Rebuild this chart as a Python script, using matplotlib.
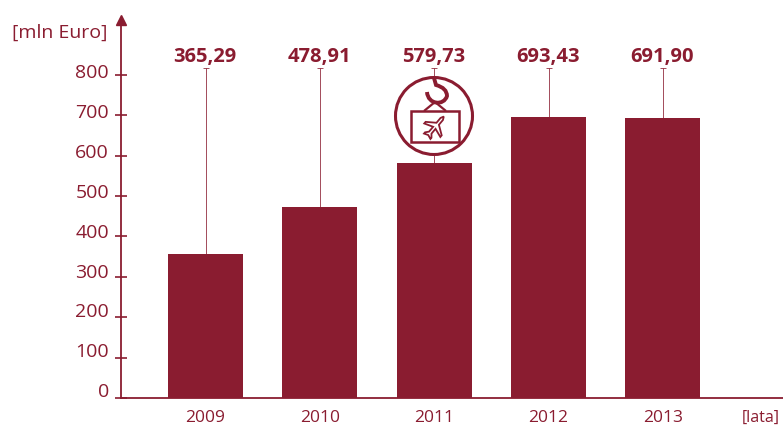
import numpy as np
import matplotlib
matplotlib.use('Agg')
import matplotlib.pyplot as plt
from matplotlib.path import Path
from matplotlib.patches import Circle, Rectangle, PathPatch, Polygon

years = ['2009', '2010', '2011', '2012', '2013']
bar_heights = [356, 473, 581, 695, 693]   # as drawn, the 2009 bar sits below its label
value_labels = ['365,29', '478,91', '579,73', '693,43', '691,90']
whisker_top = 818
y_ticks = [0, 100, 200, 300, 400, 500, 600, 700, 800]

colour = '#8a1c30'
plt.rcParams['font.family'] = ['Open Sans', 'DejaVu Sans']

W, H = 783, 425
fig = plt.figure(figsize=(W / 100, H / 100), dpi=100)

# main axes, placed so the baseline and ticks land on the reference pixels
ax = fig.add_axes([121 / W, (H - 398) / H, (W - 121) / W, (398 - 20) / H])
x = np.arange(len(years))
ax.bar(x, bar_heights, width=0.656, color=colour, zorder=3)

# thin lines from each bar up to its label
upper = [whisker_top - h for h in bar_heights]
ax.errorbar(x, bar_heights, yerr=[[0] * len(x), upper], fmt='none', ecolor=colour,
            elinewidth=0.7, capsize=2, capthick=0.7, alpha=0.8, zorder=2)

for xi, label in zip(x, value_labels):
    ax.annotate(label, (xi, whisker_top), xytext=(-0.5, 0.5), textcoords='offset points',
                ha='center', va='bottom', fontsize=14.5, fontweight='bold', color=colour)

ax.set_xlim(-0.739, 5.05)
ax.set_ylim(0, 378 / 0.404)
ax.set_xticks(x)
ax.set_xticklabels(years, fontsize=12.5, color=colour)
ax.tick_params(axis='x', length=0, pad=9)
ax.set_yticks(y_ticks)
ax.set_yticklabels([])
ax.tick_params(axis='y', direction='inout', length=8, width=1.2, color=colour)

for side in ['top', 'right']:
    ax.spines[side].set_visible(False)
for side in ['left', 'bottom']:
    ax.spines[side].set_color(colour)
    ax.spines[side].set_linewidth(1.3)
ax.plot(0, 1, '^', color=colour, markersize=7, transform=ax.transAxes, clip_on=False, zorder=5)

# overlay in pixel coordinates for the free text and the crane icon
over = fig.add_axes([0, 0, 1, 1], facecolor='none')
over.set_xlim(0, W)
over.set_ylim(H, 0)
over.axis('off')

# the y labels drift a little from their ticks in the reference
for v in y_ticks:
    over.text(109, 73 + (800 - v) * 0.399, str(v), ha='right', va='center',
              fontsize=14, color=colour)
over.text(108, 33, '[mln Euro]', ha='right', va='center', fontsize=14, color=colour)
over.text(780, 418, '[lata]', ha='right', va='center', fontsize=11.5, color=colour)

# crane icon over the 2011 bar
over.add_patch(Circle((434, 116), 38.5, facecolor='white', edgecolor=colour, lw=2.2, zorder=6))
over.add_patch(Rectangle((411, 111), 48, 31, facecolor='white', edgecolor=colour, lw=1.8, zorder=7))
over.add_patch(Polygon([(424, 111), (435, 102), (446, 111)], closed=False, fill=False,
                       edgecolor=colour, lw=1.6, zorder=7))
hook = Path([(434, 78), (436, 85), (447, 88), (447, 96), (444, 106), (428, 105), (427, 92)],
            [Path.MOVETO, Path.LINETO, Path.CURVE3, Path.CURVE3, Path.CURVE4, Path.CURVE4, Path.CURVE4])
over.add_patch(PathPatch(hook, fill=False, edgecolor=colour, lw=2.8, zorder=8))

# plane outline, drawn pointing up then turned to the upper right
plane = np.array([(0, 13), (1.5, 10), (1.5, 4), (10, -2), (10, -4), (1.5, -1), (1.5, -7), (4, -10),
                  (4, -11.5), (0, -10), (-4, -11.5), (-4, -10), (-1.5, -7), (-1.5, -1),
                  (-10, -4), (-10, -2), (-1.5, 4), (-1.5, 10)], dtype=float)
angle = np.deg2rad(-40)
rot = np.array([[np.cos(angle), -np.sin(angle)], [np.sin(angle), np.cos(angle)]])
xy = plane @ rot.T * 1.05
over.add_patch(Polygon(np.c_[435 + xy[:, 0], 127 - xy[:, 1]], closed=True, facecolor='white',
                       edgecolor=colour, lw=1.3, zorder=8))

fig.savefig('out.png', dpi=100)
